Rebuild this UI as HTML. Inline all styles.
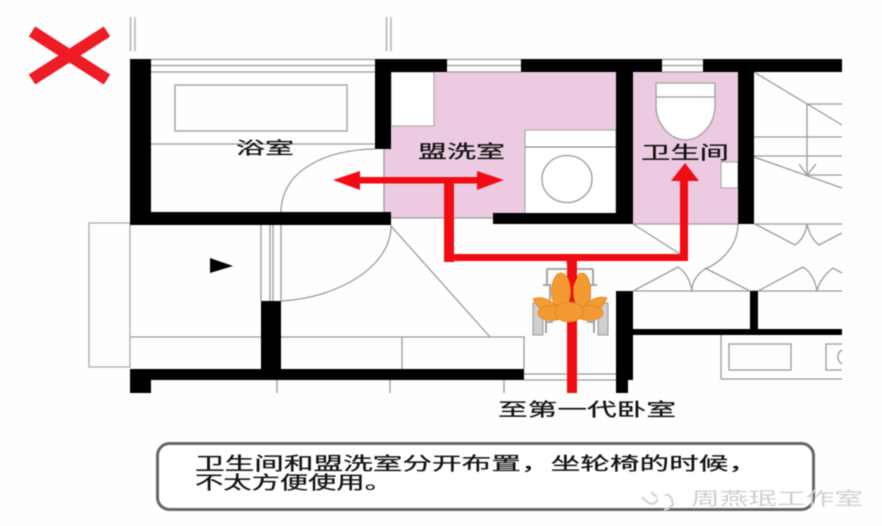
<!DOCTYPE html>
<html><head><meta charset="utf-8">
<style>
html,body{margin:0;padding:0;background:#fefefe;width:882px;height:526px;overflow:hidden}
svg{display:block;filter:blur(0.6px)}
text{font-family:"Liberation Sans","Noto Sans CJK SC",sans-serif;fill:#111;stroke:#111;stroke-width:0.25px}
</style></head><body>
<svg width="882" height="526" viewBox="0 0 882 526" xmlns="http://www.w3.org/2000/svg">
<rect width="882" height="526" fill="#fefefe"/>
<!-- X -->
<path d="M32 31.500L107 79.500M107 31.500L32 79.500" stroke="#ee1c25" stroke-width="12" fill="none"/>
<!-- pink -->
<rect x="384" y="72" width="232" height="146" fill="#eccbe2"/>
<rect x="633" y="72" width="105" height="152" fill="#eccbe2"/>
<g fill="#fff" stroke="#aaa" stroke-width="1.2">
<rect x="391" y="72" width="43" height="54"/>
<rect x="525" y="130" width="91" height="84"/>
<rect x="721" y="162" width="17" height="26"/>
<path d="M656 83H715V106C715 125 700 140 685 140C671 140 656 125 656 106Z" stroke-width="1.6"/>
</g>
<g fill="none" stroke="#9a9a9a" stroke-width="1.3">
<path d="M130.500 17V51M135 17V51M386.500 17V51M391 17V51" stroke="#bbb" stroke-width="1.8"/>
<path d="M150 59.500H375M150 65.500H375M150 72H375M447 59.500H521M447 65.500H521M447 72H521M662 59.500H703M662 65.500H703M662 72H703"/>
<rect x="175" y="85" width="172" height="46"/>
<path d="M150 144H375"/>
<path d="M375 149C325 150 282 170 281 212"/>
<path d="M384 149V218H493"/>
<path d="M525 147H616" stroke="#777" stroke-width="1"/>
<ellipse cx="567" cy="179" rx="25" ry="23.500"/>
<path d="M656 97H715"/>
<!-- lower left -->
<path d="M130 223H89V367H130V225" stroke="#aaa"/>
<path d="M261 225V301M270 225V301M273 225V301M281 225V301"/>
<path d="M130 337H525M402 337V369"/>
<path d="M391 225C392 265 340 298 281 301"/>
<path d="M391 226L490 337"/>
<path d="M277 380V393M390 380V393M504 380V393"/>
<path d="M524 337V369M524 374H618M524 380H618"/>
<!-- toilet door -->
<path d="M633 224H738M754 224H842"/>
<path d="M633 224L680 254"/>
<path d="M738 224C738 245 722 262 705 269C697 274 692 282 692 291"/>
<!-- lower right -->
<path d="M633 291H842"/>
<path d="M633 291L678 267Q689 274 692 291M750 291L705 268"/>
<path d="M758 291L803 267Q814 274 817 291Q820 278 833 268L842 273"/>
<path d="M721 335V379H842"/>
<rect x="729" y="344" width="62" height="26"/>
<path d="M842 344H826V370H842"/>
<path d="M842 350A8 8 0 0 0 842 364"/>
<!-- stairs -->
<path d="M754 72L842 125M807 104H842M807 104V175M754 137H842M754 156H842M807 175H842M754 157L842 188"/>
<path d="M799 164L807 175L816 164"/>
<path d="M755 224L795 245Q805 238 807 224Q810 238 819 245L842 233"/>
</g>
<!-- walls -->
<g fill="#000">
<rect x="130" y="59" width="21" height="166"/>
<rect x="130" y="212" width="261" height="13"/>
<rect x="375" y="59" width="16" height="90"/>
<rect x="375" y="59" width="72" height="13"/>
<rect x="521" y="59" width="141" height="13"/>
<rect x="703" y="59" width="139" height="13"/>
<rect x="616" y="59" width="17" height="165"/>
<rect x="738" y="59" width="16" height="165"/>
<rect x="493" y="213" width="140" height="11"/>
<rect x="130" y="369" width="394" height="11"/>
<rect x="130" y="369" width="21" height="24"/>
<rect x="261" y="301" width="20" height="79"/>
<rect x="616" y="291" width="17" height="89"/>
<rect x="616" y="380" width="12" height="13"/>
<rect x="633" y="329" width="209" height="6"/>
<rect x="750" y="291" width="8" height="44"/>
<path d="M210 258L233 266L210 273Z"/>
</g>
<!-- red -->
<g fill="#f00c12">
<rect x="567" y="258" width="10" height="135"/>
<rect x="444" y="177" width="10" height="85"/>
<rect x="444" y="254" width="244" height="7"/>
<rect x="680" y="178" width="8" height="83"/>
<path d="M685 163L699 181H671Z"/>
<rect x="355" y="177" width="125" height="6.500"/>
<path d="M333 180L360 171V190Z"/>
<path d="M504 180L477 171V190Z"/>
</g>
<!-- wheelchair -->
<g fill="none" stroke="#9a9a9a" stroke-width="1.800">
<path d="M547 269H593M547 269V284M593 269V284M543 285H550V300M597 285H590V300"/>
<path d="M546 333V318M594 333V318M546 322L553 322M587 322L594 322"/>
</g>
<rect x="533" y="303" width="10" height="32" fill="#cfcfcf" stroke="#999"/>
<rect x="598" y="303" width="10" height="32" fill="#cfcfcf" stroke="#999"/>
<g fill="#f39a32" stroke="#e0841f" stroke-width="0.800">
<ellipse cx="561" cy="291" rx="9.500" ry="18"/>
<ellipse cx="582" cy="291" rx="8.500" ry="18"/>
<path d="M533 299C541 295 553 300 562 312C553 319 540 313 533 299Z"/>
<path d="M607 298C599 295 587 300 578 312C587 319 600 313 607 298Z"/>
<ellipse cx="552" cy="313" rx="14" ry="7.500"/>
<ellipse cx="589" cy="313" rx="14" ry="7.500"/>
<ellipse cx="569" cy="312" rx="14" ry="10"/>
</g>
<path d="M566 258H577V278L571 291Z" fill="#f00c12"/>
<!-- labels -->
<text x="236" y="154" font-size="17" textLength="58" lengthAdjust="spacingAndGlyphs">浴室</text>
<text x="418" y="158" font-size="18" textLength="87" lengthAdjust="spacingAndGlyphs">盟洗室</text>
<text x="641" y="159" font-size="18" textLength="88" lengthAdjust="spacingAndGlyphs">卫生间</text>
<text x="498" y="416" font-size="18" textLength="178" lengthAdjust="spacingAndGlyphs">至第一代卧室</text>
<!-- callout -->
<rect x="157.500" y="443.500" width="656" height="66" rx="12" fill="#fff" stroke="#666" stroke-width="3"/>
<text x="195" y="470" font-size="18" textLength="563" lengthAdjust="spacingAndGlyphs">卫生间和盟洗室分开布置，坐轮椅的时候，</text>
<text x="195" y="489" font-size="18" textLength="198" lengthAdjust="spacingAndGlyphs">不太方便使用。</text>
<!-- watermark -->
<g fill="none" stroke="#cfcfcf" stroke-width="2">
<path d="M642 497C648 504 654 507 658 499M651 492L657 497M665 495C670 494 673 499 672 503M664 510C668 509 672 507 674 503"/>
</g>
<text x="691" y="505" font-size="18" textLength="172" lengthAdjust="spacingAndGlyphs" style="fill:#cfcfcf;stroke:none">周燕珉工作室</text>
</svg>
</body></html>
